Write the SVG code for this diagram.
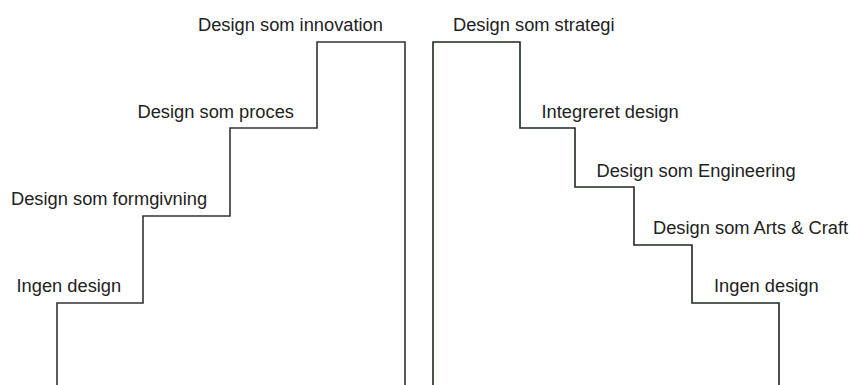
<svg xmlns="http://www.w3.org/2000/svg" width="850" height="385" viewBox="0 0 850 385">
<style>
.t{font-family:"Liberation Sans",Arial,sans-serif;font-size:18.3px;fill:#222}
.sl{fill:none;stroke:#333;stroke-width:1.6}
.sr{fill:none;stroke:#1e2a1e;stroke-width:1.6}
</style>
<rect width="850" height="385" fill="#fff"/>
<g id="connectors">
<path id="stairs-left" class="sl" d="M57,385 V303 H143 V216 H230 V128 H317 V42 H405 V385"/>
<path id="stairs-right" class="sr" d="M433,385 V42 H520 V128 H575 V187 H634 V245 H692 V303 H779 V385"/>
</g>
<g id="left-innovation"><text class="t" x="198" y="30.5">Design som innovation</text></g>
<g id="left-proces"><text class="t" x="137.5" y="117.5">Design som proces</text></g>
<g id="left-formgivning"><text class="t" x="11" y="205">Design som formgivning</text></g>
<g id="left-ingen"><text class="t" x="16.5" y="291.5">Ingen design</text></g>
<g id="right-strategi"><text class="t" x="453" y="30.5">Design som strategi</text></g>
<g id="right-integreret"><text class="t" x="541.5" y="117.5">Integreret design</text></g>
<g id="right-engineering"><text class="t" x="596.5" y="176.5">Design som Engineering</text></g>
<g id="right-arts"><text class="t" x="653" y="233.5">Design som Arts &amp; Craft</text></g>
<g id="right-ingen"><text class="t" x="714" y="291.5">Ingen design</text></g>
</svg>
